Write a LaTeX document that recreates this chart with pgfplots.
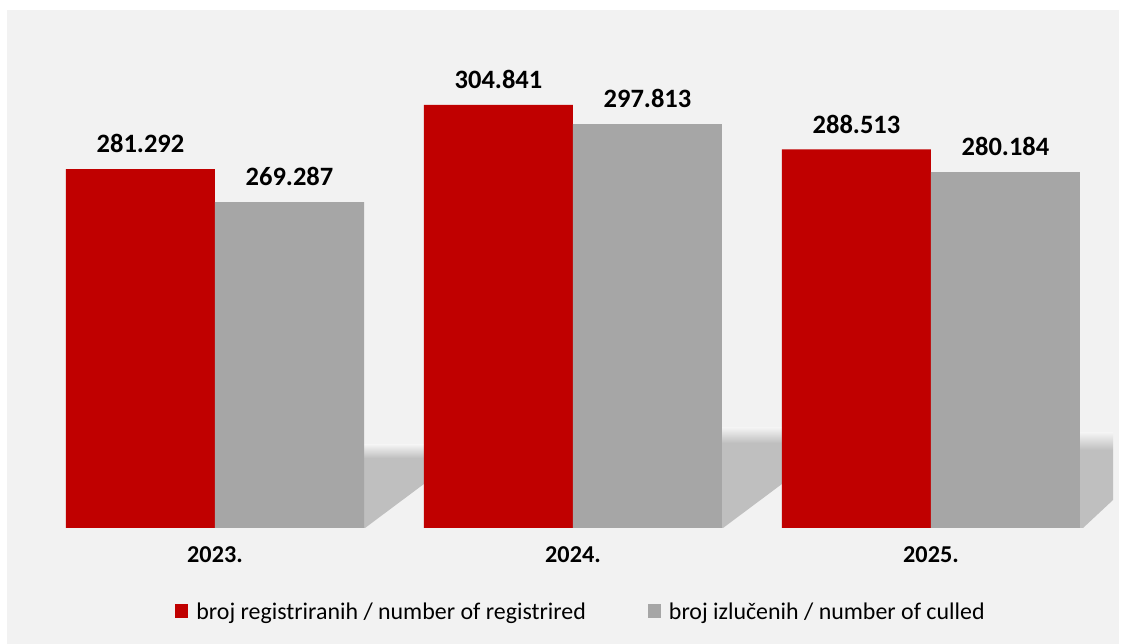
\documentclass[border=0pt]{standalone}
\usepackage{fontspec}
\setmainfont{Carlito}
\usepackage{pgfplots}
\pgfplotsset{compat=1.18}
\definecolor{regred}{HTML}{C00000}
\definecolor{culgray}{HTML}{A6A6A6}
\definecolor{bggray}{HTML}{F2F2F2}
\definecolor{shadowgray}{HTML}{BFBFBF}

\begin{document}
\begin{tikzpicture}[x=1bp,y=1bp]
  % page and chart area
  \fill[white] (-36,-116) rectangle (1090,528);
  \fill[bggray] (-29,-116) rectangle (1083,518);
  % soft shadows cast behind each pair of bars
  \fill[shadowgray] (327,0) -- (327,70) -- (404,70) -- (404,56) -- (329,0) -- cycle;
  \shade[top color=bggray, bottom color=shadowgray] (327,70) rectangle (404,83);
  \fill[shadowgray] (685,0) -- (685,85) -- (762,85) -- (762,56) -- (687,0) -- cycle;
  \shade[top color=bggray, bottom color=shadowgray] (685,85) rectangle (762,100);
  \fill[shadowgray] (1044,0) -- (1044,78) -- (1077,78) -- (1077,28) -- (1047,0) -- cycle;
  \shade[top color=bggray, bottom color=shadowgray] (1044,78) rectangle (1077,95);
  \begin{axis}[
      at={(0,0)}, anchor=south west,
      scale only axis,
      width=1074bp, height=508bp,
      xmin=-0.5, xmax=2.5,
      ymin=150000, ymax=335900,
      axis line style={draw=none},
      major tick length=0pt,
      ytick=\empty,
      xtick={0,1,2},
      xticklabels={2023.,2024.,2025.},
      xticklabel style={font=\fontsize{24.3}{28}\selectfont\bfseries, inner sep=0pt, yshift=-18bp},
      ybar=0pt,
      bar width=149bp,
      point meta=explicit symbolic,
      nodes near coords,
      every node near coord/.append style={font=\fontsize{26.6}{30}\selectfont\bfseries,
        inner sep=0pt, anchor=south, yshift=16bp},
      legend columns=2,
      legend style={draw=none, fill=none, at={(0.5075,-0.165)}, anchor=center,
        font=\fontsize{24}{28}\selectfont,
        /tikz/every odd column/.append style={column sep=6bp},
        /tikz/every even column/.append style={column sep=60bp}},
      legend image code/.code={\fill[#1] (0bp,-6bp) rectangle (13bp,8bp);},
    ]
    \addplot[fill=regred, draw=none] coordinates {
      (0,281292) [281.292]
      (1,304841) [304.841]
      (2,288513) [288.513]
    };
    \addplot[fill=culgray, draw=none] coordinates {
      (0,269287) [269.287]
      (1,297813) [297.813]
      (2,280184) [280.184]
    };
    \legend{broj registriranih / number of registrired, broj izlučenih / number of culled}
  \end{axis}
\end{tikzpicture}
\end{document}
